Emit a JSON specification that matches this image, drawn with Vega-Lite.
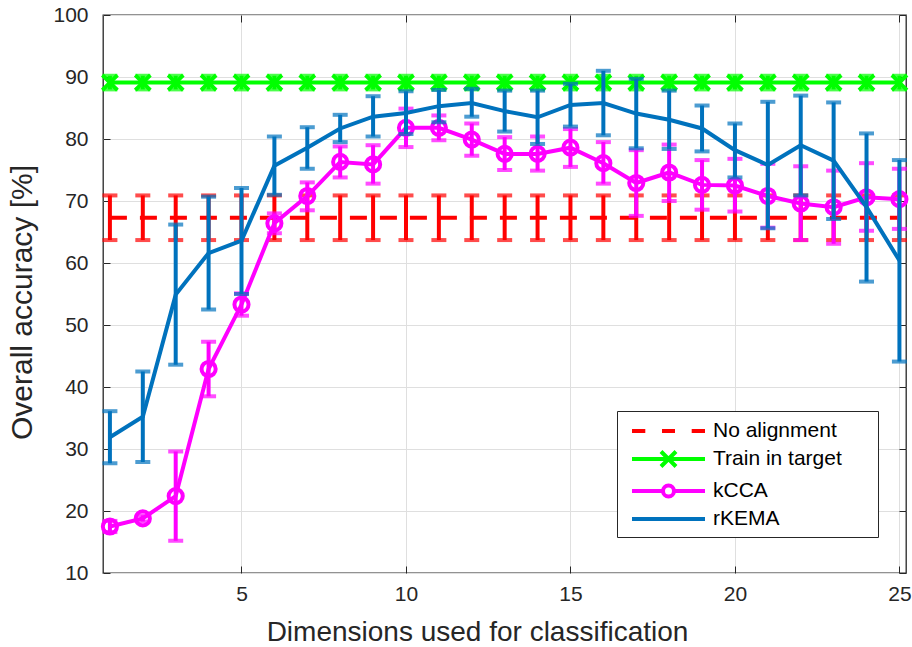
{
  "$schema": "https://vega.github.io/schema/vega-lite/v6.json",
  "autosize": "none",
  "width": 803,
  "height": 558,
  "padding": {"left": 103, "top": 15, "right": 6, "bottom": 74},
  "background": "white",
  "config": {
    "font": "Liberation Sans",
    "view": {"stroke": "#262626", "strokeWidth": 1.3}
  },
  "data": {"values": [
    {"series":"No alignment","x":1,"mean":67.3,"lo":63.7,"hi":70.9},
    {"series":"No alignment","x":2,"mean":67.3,"lo":63.7,"hi":70.9},
    {"series":"No alignment","x":3,"mean":67.3,"lo":63.7,"hi":70.9},
    {"series":"No alignment","x":4,"mean":67.3,"lo":63.7,"hi":70.9},
    {"series":"No alignment","x":5,"mean":67.3,"lo":63.7,"hi":70.9},
    {"series":"No alignment","x":6,"mean":67.3,"lo":63.7,"hi":70.9},
    {"series":"No alignment","x":7,"mean":67.3,"lo":63.7,"hi":70.9},
    {"series":"No alignment","x":8,"mean":67.3,"lo":63.7,"hi":70.9},
    {"series":"No alignment","x":9,"mean":67.3,"lo":63.7,"hi":70.9},
    {"series":"No alignment","x":10,"mean":67.3,"lo":63.7,"hi":70.9},
    {"series":"No alignment","x":11,"mean":67.3,"lo":63.7,"hi":70.9},
    {"series":"No alignment","x":12,"mean":67.3,"lo":63.7,"hi":70.9},
    {"series":"No alignment","x":13,"mean":67.3,"lo":63.7,"hi":70.9},
    {"series":"No alignment","x":14,"mean":67.3,"lo":63.7,"hi":70.9},
    {"series":"No alignment","x":15,"mean":67.3,"lo":63.7,"hi":70.9},
    {"series":"No alignment","x":16,"mean":67.3,"lo":63.7,"hi":70.9},
    {"series":"No alignment","x":17,"mean":67.3,"lo":63.7,"hi":70.9},
    {"series":"No alignment","x":18,"mean":67.3,"lo":63.7,"hi":70.9},
    {"series":"No alignment","x":19,"mean":67.3,"lo":63.7,"hi":70.9},
    {"series":"No alignment","x":20,"mean":67.3,"lo":63.7,"hi":70.9},
    {"series":"No alignment","x":21,"mean":67.3,"lo":63.7,"hi":70.9},
    {"series":"No alignment","x":22,"mean":67.3,"lo":63.7,"hi":70.9},
    {"series":"No alignment","x":23,"mean":67.3,"lo":63.7,"hi":70.9},
    {"series":"No alignment","x":24,"mean":67.3,"lo":63.7,"hi":70.9},
    {"series":"No alignment","x":25,"mean":67.3,"lo":63.7,"hi":70.9},
    {"series":"Train in target","x":1,"mean":89.1,"lo":88.0,"hi":90.2},
    {"series":"Train in target","x":2,"mean":89.1,"lo":88.0,"hi":90.2},
    {"series":"Train in target","x":3,"mean":89.1,"lo":88.0,"hi":90.2},
    {"series":"Train in target","x":4,"mean":89.1,"lo":88.0,"hi":90.2},
    {"series":"Train in target","x":5,"mean":89.1,"lo":88.0,"hi":90.2},
    {"series":"Train in target","x":6,"mean":89.1,"lo":88.0,"hi":90.2},
    {"series":"Train in target","x":7,"mean":89.1,"lo":88.0,"hi":90.2},
    {"series":"Train in target","x":8,"mean":89.1,"lo":88.0,"hi":90.2},
    {"series":"Train in target","x":9,"mean":89.1,"lo":88.0,"hi":90.2},
    {"series":"Train in target","x":10,"mean":89.1,"lo":88.0,"hi":90.2},
    {"series":"Train in target","x":11,"mean":89.1,"lo":88.0,"hi":90.2},
    {"series":"Train in target","x":12,"mean":89.1,"lo":88.0,"hi":90.2},
    {"series":"Train in target","x":13,"mean":89.1,"lo":88.0,"hi":90.2},
    {"series":"Train in target","x":14,"mean":89.1,"lo":88.0,"hi":90.2},
    {"series":"Train in target","x":15,"mean":89.1,"lo":88.0,"hi":90.2},
    {"series":"Train in target","x":16,"mean":89.1,"lo":88.0,"hi":90.2},
    {"series":"Train in target","x":17,"mean":89.1,"lo":88.0,"hi":90.2},
    {"series":"Train in target","x":18,"mean":89.1,"lo":88.0,"hi":90.2},
    {"series":"Train in target","x":19,"mean":89.1,"lo":88.0,"hi":90.2},
    {"series":"Train in target","x":20,"mean":89.1,"lo":88.0,"hi":90.2},
    {"series":"Train in target","x":21,"mean":89.1,"lo":88.0,"hi":90.2},
    {"series":"Train in target","x":22,"mean":89.1,"lo":88.0,"hi":90.2},
    {"series":"Train in target","x":23,"mean":89.1,"lo":88.0,"hi":90.2},
    {"series":"Train in target","x":24,"mean":89.1,"lo":88.0,"hi":90.2},
    {"series":"Train in target","x":25,"mean":89.1,"lo":88.0,"hi":90.2},
    {"series":"kCCA","x":1,"mean":17.5,"lo":16.6,"hi":18.4},
    {"series":"kCCA","x":2,"mean":18.8,"lo":18.3,"hi":19.3},
    {"series":"kCCA","x":3,"mean":22.4,"lo":15.2,"hi":29.6},
    {"series":"kCCA","x":4,"mean":42.9,"lo":38.5,"hi":47.3},
    {"series":"kCCA","x":5,"mean":53.3,"lo":51.5,"hi":55.1},
    {"series":"kCCA","x":6,"mean":66.4,"lo":64.8,"hi":68.0},
    {"series":"kCCA","x":7,"mean":70.8,"lo":68.5,"hi":73.0},
    {"series":"kCCA","x":8,"mean":76.3,"lo":73.8,"hi":78.8},
    {"series":"kCCA","x":9,"mean":75.9,"lo":72.8,"hi":79.0},
    {"series":"kCCA","x":10,"mean":81.8,"lo":78.7,"hi":84.9},
    {"series":"kCCA","x":11,"mean":81.8,"lo":79.8,"hi":83.8},
    {"series":"kCCA","x":12,"mean":79.9,"lo":77.3,"hi":82.5},
    {"series":"kCCA","x":13,"mean":77.6,"lo":75.0,"hi":80.3},
    {"series":"kCCA","x":14,"mean":77.6,"lo":74.9,"hi":80.4},
    {"series":"kCCA","x":15,"mean":78.6,"lo":75.5,"hi":81.6},
    {"series":"kCCA","x":16,"mean":76.1,"lo":72.8,"hi":79.5},
    {"series":"kCCA","x":17,"mean":72.9,"lo":67.6,"hi":78.2},
    {"series":"kCCA","x":18,"mean":74.6,"lo":70.0,"hi":79.1},
    {"series":"kCCA","x":19,"mean":72.6,"lo":68.6,"hi":76.6},
    {"series":"kCCA","x":20,"mean":72.5,"lo":68.3,"hi":76.8},
    {"series":"kCCA","x":21,"mean":70.8,"lo":65.7,"hi":76.0},
    {"series":"kCCA","x":22,"mean":69.6,"lo":63.7,"hi":75.6},
    {"series":"kCCA","x":23,"mean":69.0,"lo":63.1,"hi":74.9},
    {"series":"kCCA","x":24,"mean":70.6,"lo":65.2,"hi":76.1},
    {"series":"kCCA","x":25,"mean":70.3,"lo":65.5,"hi":75.2},
    {"series":"rKEMA","x":1,"mean":31.9,"lo":27.7,"hi":36.1},
    {"series":"rKEMA","x":2,"mean":35.2,"lo":27.9,"hi":42.5},
    {"series":"rKEMA","x":3,"mean":54.9,"lo":43.6,"hi":66.2},
    {"series":"rKEMA","x":4,"mean":61.6,"lo":52.5,"hi":70.7},
    {"series":"rKEMA","x":5,"mean":63.6,"lo":55.0,"hi":72.1},
    {"series":"rKEMA","x":6,"mean":75.7,"lo":71.0,"hi":80.4},
    {"series":"rKEMA","x":7,"mean":78.6,"lo":75.2,"hi":81.9},
    {"series":"rKEMA","x":8,"mean":81.7,"lo":79.5,"hi":83.9},
    {"series":"rKEMA","x":9,"mean":83.6,"lo":80.4,"hi":86.9},
    {"series":"rKEMA","x":10,"mean":84.2,"lo":80.8,"hi":87.7},
    {"series":"rKEMA","x":11,"mean":85.3,"lo":82.7,"hi":87.9},
    {"series":"rKEMA","x":12,"mean":85.8,"lo":83.6,"hi":88.1},
    {"series":"rKEMA","x":13,"mean":84.5,"lo":81.2,"hi":87.8},
    {"series":"rKEMA","x":14,"mean":83.5,"lo":79.2,"hi":87.8},
    {"series":"rKEMA","x":15,"mean":85.5,"lo":82.0,"hi":88.9},
    {"series":"rKEMA","x":16,"mean":85.8,"lo":80.6,"hi":91.0},
    {"series":"rKEMA","x":17,"mean":84.1,"lo":78.5,"hi":89.7},
    {"series":"rKEMA","x":18,"mean":83.1,"lo":78.4,"hi":87.8},
    {"series":"rKEMA","x":19,"mean":81.7,"lo":78.0,"hi":85.4},
    {"series":"rKEMA","x":20,"mean":78.2,"lo":73.8,"hi":82.5},
    {"series":"rKEMA","x":21,"mean":75.8,"lo":65.6,"hi":86.0},
    {"series":"rKEMA","x":22,"mean":79.0,"lo":70.9,"hi":87.0},
    {"series":"rKEMA","x":23,"mean":76.5,"lo":67.1,"hi":85.9},
    {"series":"rKEMA","x":24,"mean":69.0,"lo":57.0,"hi":80.9},
    {"series":"rKEMA","x":25,"mean":60.4,"lo":44.1,"hi":76.6}
  ]},
  "layer": [
    {
      "transform": [{"filter": {"field": "series", "equal": "No alignment"}}],
      "mark": {"type": "rule", "strokeWidth": 4, "color": "#FF0000"},
      "encoding": {
        "x": {"field": "x", "type": "quantitative", "scale": {"domain": [0.79, 25.2], "nice": false, "zero": false},
          "axis": {"orient": "bottom", "values": [5, 10, 15, 20, 25], "grid": true, "gridColor": "#dfdfdf", "gridWidth": 1, "domain": false, "tickSize": -7, "tickColor": "#262626", "tickWidth": 1, "labelFontSize": 21, "labelColor": "#262626", "labelPadding": 17, "labelFlush": false, "title": "Dimensions used for classification", "titleFontSize": 28, "titleFontWeight": "normal", "titleColor": "#262626", "titlePadding": 14, "titleX": 374, "titleAlign": "center"}},
        "y": {"field": "lo", "type": "quantitative", "scale": {"domain": [10, 100], "nice": false, "zero": false},
          "axis": {"orient": "left", "values": [10, 20, 30, 40, 50, 60, 70, 80, 90, 100], "grid": true, "gridColor": "#dfdfdf", "gridWidth": 1, "domain": false, "tickSize": -7, "tickColor": "#262626", "tickWidth": 1, "labelFontSize": 21, "labelColor": "#262626", "labelPadding": 22, "labelFlush": false, "title": "Overall accuracy [%]", "titleFontSize": 30, "titleFontWeight": "normal", "titleColor": "#262626", "titlePadding": 15, "titleY": 287, "titleAlign": "center"}},
        "y2": {"field": "hi"}
      }
    },
    {
      "transform": [{"filter": {"field": "series", "equal": "No alignment"}}, {"fold": ["lo", "hi"], "as": ["cap", "capv"]}],
      "mark": {"type": "tick", "orient": "horizontal", "size": 15, "thickness": 4, "color": "#FF0000"},
      "encoding": {
        "x": {"field": "x", "type": "quantitative", "axis": null},
        "y": {"field": "capv", "type": "quantitative", "axis": null}
      }
    },
    {
      "transform": [{"filter": {"field": "series", "equal": "No alignment"}}],
      "mark": {"type": "line", "strokeWidth": 4, "strokeDash": [17, 13], "color": "#FF0000"},
      "encoding": {
        "x": {"field": "x", "type": "quantitative", "axis": null},
        "y": {"field": "mean", "type": "quantitative", "axis": null}
      }
    },
    {
      "transform": [{"filter": {"field": "series", "equal": "Train in target"}}],
      "mark": {"type": "rule", "strokeWidth": 4, "color": "#00FF00"},
      "encoding": {
        "x": {"field": "x", "type": "quantitative", "axis": null},
        "y": {"field": "lo", "type": "quantitative", "axis": null},
        "y2": {"field": "hi"}
      }
    },
    {
      "transform": [{"filter": {"field": "series", "equal": "Train in target"}}, {"fold": ["lo", "hi"], "as": ["cap", "capv"]}],
      "mark": {"type": "tick", "orient": "horizontal", "size": 15, "thickness": 4, "color": "#00FF00"},
      "encoding": {
        "x": {"field": "x", "type": "quantitative", "axis": null},
        "y": {"field": "capv", "type": "quantitative", "axis": null}
      }
    },
    {
      "transform": [{"filter": {"field": "series", "equal": "Train in target"}}],
      "mark": {"type": "line", "strokeWidth": 4, "color": "#00FF00"},
      "encoding": {
        "x": {"field": "x", "type": "quantitative", "axis": null},
        "y": {"field": "mean", "type": "quantitative", "axis": null}
      }
    },
    {
      "transform": [{"filter": {"field": "series", "equal": "Train in target"}}],
      "mark": {"type": "point", "shape": "M-1,-1L1,1M-1,1L1,-1", "filled": false, "size": 225, "strokeWidth": 4, "opacity": 1, "color": "#00FF00"},
      "encoding": {
        "x": {"field": "x", "type": "quantitative", "axis": null},
        "y": {"field": "mean", "type": "quantitative", "axis": null}
      }
    },
    {
      "transform": [{"filter": {"field": "series", "equal": "kCCA"}}],
      "mark": {"type": "rule", "strokeWidth": 4, "color": "#FF00FF"},
      "encoding": {
        "x": {"field": "x", "type": "quantitative", "axis": null},
        "y": {"field": "lo", "type": "quantitative", "axis": null},
        "y2": {"field": "hi"}
      }
    },
    {
      "transform": [{"filter": {"field": "series", "equal": "kCCA"}}, {"fold": ["lo", "hi"], "as": ["cap", "capv"]}],
      "mark": {"type": "tick", "orient": "horizontal", "size": 15, "thickness": 4, "color": "#FF00FF"},
      "encoding": {
        "x": {"field": "x", "type": "quantitative", "axis": null},
        "y": {"field": "capv", "type": "quantitative", "axis": null}
      }
    },
    {
      "transform": [{"filter": {"field": "series", "equal": "kCCA"}}],
      "mark": {"type": "line", "strokeWidth": 4, "color": "#FF00FF"},
      "encoding": {
        "x": {"field": "x", "type": "quantitative", "axis": null},
        "y": {"field": "mean", "type": "quantitative", "axis": null}
      }
    },
    {
      "transform": [{"filter": {"field": "series", "equal": "kCCA"}}],
      "mark": {"type": "point", "shape": "circle", "filled": false, "size": 200, "strokeWidth": 4, "opacity": 1, "color": "#FF00FF"},
      "encoding": {
        "x": {"field": "x", "type": "quantitative", "axis": null},
        "y": {"field": "mean", "type": "quantitative", "axis": null}
      }
    },
    {
      "transform": [{"filter": {"field": "series", "equal": "rKEMA"}}],
      "mark": {"type": "rule", "strokeWidth": 4, "color": "#0072BD"},
      "encoding": {
        "x": {"field": "x", "type": "quantitative", "axis": null},
        "y": {"field": "lo", "type": "quantitative", "axis": null},
        "y2": {"field": "hi"}
      }
    },
    {
      "transform": [{"filter": {"field": "series", "equal": "rKEMA"}}, {"fold": ["lo", "hi"], "as": ["cap", "capv"]}],
      "mark": {"type": "tick", "orient": "horizontal", "size": 15, "thickness": 4, "color": "#0072BD"},
      "encoding": {
        "x": {"field": "x", "type": "quantitative", "axis": null},
        "y": {"field": "capv", "type": "quantitative", "axis": null}
      }
    },
    {
      "transform": [{"filter": {"field": "series", "equal": "rKEMA"}}],
      "mark": {"type": "line", "strokeWidth": 4, "color": "#0072BD"},
      "encoding": {
        "x": {"field": "x", "type": "quantitative", "axis": null},
        "y": {"field": "mean", "type": "quantitative", "axis": null}
      }
    },
    {
      "transform": [{"filter": "false"}],
      "mark": {"type": "point", "filled": false, "strokeWidth": 4},
      "encoding": {
        "x": {"field": "x", "type": "quantitative",
          "axis": {"orient": "top", "values": [5, 10, 15, 20, 25], "grid": false, "domain": false, "labels": false, "tickSize": -7, "tickColor": "#262626", "tickWidth": 1, "title": null}},
        "y": {"field": "mean", "type": "quantitative",
          "axis": {"orient": "right", "values": [10, 20, 30, 40, 50, 60, 70, 80, 90, 100], "grid": false, "domain": false, "labels": false, "tickSize": -7, "tickColor": "#262626", "tickWidth": 1, "title": null}},
        "shape": {"field": "series", "type": "nominal",
          "scale": {"domain": ["No alignment", "Train in target", "kCCA", "rKEMA"], "range": ["M-1,0H0.33M2,0H3.3M4.97,0H6.3M22,0", "M-1,0H6.3M1.9,-0.75L3.4,0.75M1.9,0.75L3.4,-0.75M22,0", "M-1,0H2.1A0.55,0.55,0,1,1,3.2,0H6.3M3.2,0A0.55,0.55,0,1,1,2.1,0M22,0", "M-1,0H6.3M22,0"]},
          "legend": {"orient": "none", "legendX": 514, "legendY": 396, "title": null, "strokeColor": "#262626", "fillColor": "#ffffff", "padding": 8, "rowPadding": 2, "symbolSize": 400, "symbolStrokeWidth": 4, "symbolOffset": 5, "symbolOpacity": 1, "labelFontSize": 21, "labelColor": "#000000", "labelOffset": 59, "labelLimit": 300}},
        "stroke": {"field": "series", "type": "nominal",
          "scale": {"domain": ["No alignment", "Train in target", "kCCA", "rKEMA"], "range": ["#FF0000", "#00FF00", "#FF00FF", "#0072BD"]},
          "legend": {"orient": "none", "legendX": 514, "legendY": 396, "title": null, "strokeColor": "#262626", "fillColor": "#ffffff", "padding": 8, "rowPadding": 2, "symbolSize": 400, "symbolStrokeWidth": 4, "symbolOffset": 5, "symbolOpacity": 1, "labelFontSize": 21, "labelColor": "#000000", "labelOffset": 59, "labelLimit": 300}}
      }
    }
  ]
}
